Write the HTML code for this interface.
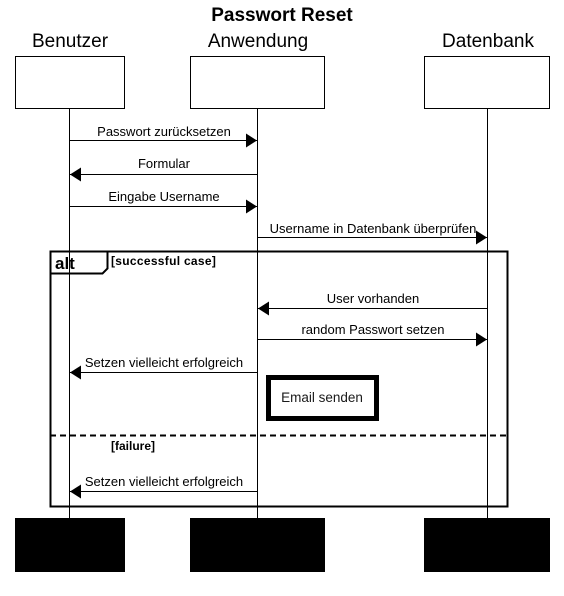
<!DOCTYPE html>
<html><head><meta charset="utf-8"><style>
html,body{margin:0;padding:0;background:#fff;}
svg{display:block;font-family:"Liberation Sans",Arial,sans-serif;}
</style></head><body>
<svg width="564" height="596" viewBox="0 0 564 596" xmlns="http://www.w3.org/2000/svg">
<defs>
<marker id="a" markerWidth="12" markerHeight="14" refX="11" refY="7" orient="auto" markerUnits="userSpaceOnUse">
<path d="M0,0 L11,7 L0,14 Z" fill="#000"/></marker>
</defs>
<text x="282" y="21" font-size="19" font-weight="bold" text-anchor="middle">Passwort Reset</text>
<text x="70" y="47" font-size="19" text-anchor="middle">Benutzer</text>
<text x="258" y="47" font-size="19" text-anchor="middle">Anwendung</text>
<text x="488" y="47" font-size="19" text-anchor="middle">Datenbank</text>
<g fill="#fff" stroke="#000" stroke-width="1">
<rect x="15.5" y="56.5" width="109" height="52"/>
<rect x="190.5" y="56.5" width="134" height="52"/>
<rect x="424.5" y="56.5" width="125" height="52"/>
</g>
<g stroke="#000" stroke-width="1">
<line x1="69.5" y1="108" x2="69.5" y2="518"/>
<line x1="257.5" y1="108" x2="257.5" y2="518"/>
<line x1="487.5" y1="108" x2="487.5" y2="518"/>
</g>
<rect x="15" y="518" width="110" height="54" fill="#000"/>
<rect x="190" y="518" width="135" height="54" fill="#000"/>
<rect x="424" y="518" width="126" height="54" fill="#000"/>
<rect x="50.5" y="251.5" width="457" height="255" fill="none" stroke="#000" stroke-width="2"/>
<path d="M50.5,273.5 H102.5 L107.5,268.5 V251.5" fill="none" stroke="#000" stroke-width="2"/>
<text x="55" y="269" font-size="17" font-weight="bold">alt</text>
<text x="111" y="265" font-size="12" font-weight="bold" letter-spacing="0.3">[successful case]</text>
<line x1="50" y1="435.5" x2="507" y2="435.5" stroke="#000" stroke-width="2" stroke-dasharray="6,4"/>
<text x="111" y="450" font-size="12" font-weight="bold">[failure]</text>
<g stroke="#000" stroke-width="1" marker-end="url(#a)">
<line x1="70" y1="140.5" x2="257" y2="140.5"/>
<line x1="257" y1="174.5" x2="70" y2="174.5"/>
<line x1="70" y1="206.5" x2="257" y2="206.5"/>
<line x1="258" y1="237.5" x2="487" y2="237.5"/>
<line x1="487" y1="308.5" x2="258" y2="308.5"/>
<line x1="258" y1="339.5" x2="487" y2="339.5"/>
<line x1="257" y1="372.5" x2="70" y2="372.5"/>
<line x1="257" y1="491.5" x2="70" y2="491.5"/>
</g>
<g font-size="13" text-anchor="middle">
<text x="164" y="136">Passwort zurücksetzen</text>
<text x="164" y="168">Formular</text>
<text x="164" y="201">Eingabe Username</text>
<text x="373" y="233">Username in Datenbank überprüfen</text>
<text x="373" y="303">User vorhanden</text>
<text x="373" y="334">random Passwort setzen</text>
<text x="164" y="367">Setzen vielleicht erfolgreich</text>
<text x="164" y="486">Setzen vielleicht erfolgreich</text>
</g>
<rect x="268.5" y="377.5" width="108" height="41" fill="#fff" stroke="#000" stroke-width="5"/>
<text x="322" y="402" font-size="13.5" text-anchor="middle" fill="#1a1a1a">Email senden</text>
</svg>
</body></html>
